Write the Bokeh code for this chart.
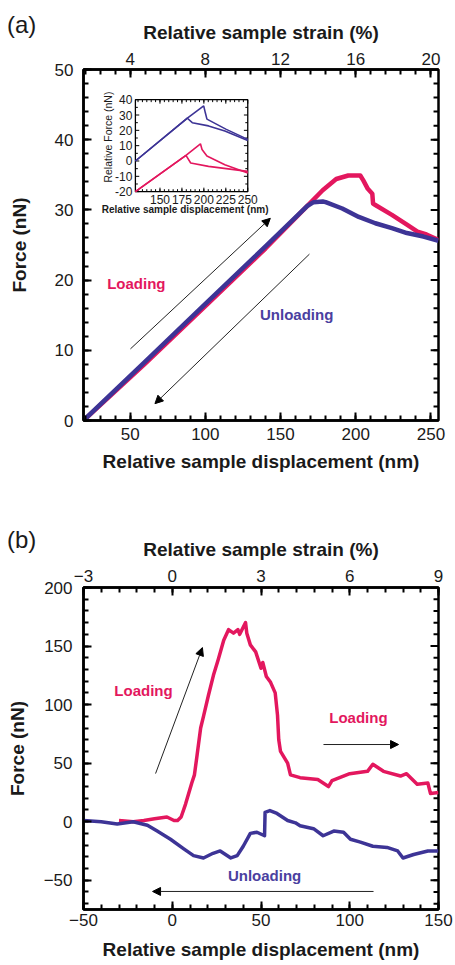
import math
import numpy as np
from bokeh.plotting import figure
from bokeh.models import Range1d, LinearAxis, FixedTicker, Label, Arrow, NormalHead, Div
from bokeh.layouts import column
from bokeh.embed import file_html
from bokeh.resources import INLINE
from bokeh.core.properties import value

FONT = "Liberation Sans"
PINK = "#E3175E"
BLUE = "#3D3496"
TXT = "#1a1a1a"

# ---------------- Panel (a) data ----------------
A_DISP_LOAD = [19, 60, 100, 140, 167, 178, 187, 195, 203, 205, 208, 211, 211.5, 213, 224, 234, 241, 247, 255]
A_FORCE_LOAD = [0, 8.1, 16.3, 24.5, 30.4, 32.8, 34.4, 34.9, 34.9, 34.2, 33.0, 32.3, 30.9, 30.7, 29.3, 27.9, 26.9, 26.5, 25.7]
A_DISP_UNLOAD = [19, 60, 100, 140, 168, 172, 178, 180, 191, 202, 213, 224, 234, 245, 255]
A_FORCE_UNLOAD = [0, 8.4, 16.6, 24.8, 30.6, 31.1, 31.2, 31.1, 30.2, 29.0, 28.1, 27.4, 26.7, 26.2, 25.6]
A_X_TICKS = [50, 100, 150, 200, 250]
A_Y_TICKS = [0, 10, 20, 30, 40, 50]
A_STRAIN_TICKS = [4, 8, 12, 16, 20]
A_STRAIN_PER_NM = 0.08

# inset of panel (a)
IN_BLUE1_X = [122, 181.2, 186.8, 205.3, 223.9, 250]
IN_BLUE1_Y = [0, 27.9, 25.0, 22.9, 19.6, 13.4]
IN_BLUE2_X = [122, 181.2, 199.8, 201.6, 203.5, 225, 250]
IN_BLUE2_Y = [0, 27.9, 36.0, 31.6, 27.3, 20.8, 14.1]
IN_PINK1_X = [122, 179.6, 185, 205.3, 250]
IN_PINK1_Y = [-20, 3.7, -1.3, -3.5, -6.8]
IN_PINK2_X = [122, 179.6, 196.1, 197.9, 203.5, 223.9, 250]
IN_PINK2_Y = [-20, 3.7, 11.2, 7.5, 3.2, -2.4, -7.9]
IN_X_TICKS = [150, 175, 200, 225, 250]
IN_Y_TICKS = [-20, -10, 0, 10, 20, 30, 40]

# ---------------- Panel (b) data ----------------
B_DISP_LOAD = [-30, -22, -16, -10, -3, 1, 3, 5, 7.5, 11, 12.5, 14, 16, 17.6, 20.4, 23.2, 26, 29, 31.7, 34.5,
               37, 38, 41.3, 42, 44, 47, 50, 51, 53, 55.4, 58, 59.3, 60, 61, 65, 66.6, 72, 82, 88, 90,
               100, 110, 113, 119, 128.6, 132, 138, 144, 145.5, 150]
B_FORCE_LOAD = [1, 0, 1, 2.5, 4, 1, 1, 4, 15, 33, 40, 57, 80, 90, 108, 125, 139, 155, 164, 161,
                164, 160, 170, 161, 151, 145, 131, 136, 124, 119, 110, 91, 70, 60, 50, 40, 37.6, 36, 30, 35,
                41, 43, 49, 43, 39, 41, 32, 33, 24, 25]
B_DISP_UNLOAD = [-50, -40, -31, -22, -14, -8.5, -1, 6.3, 12, 17.6, 23, 27, 33, 36.6, 40, 44, 47.7, 52,
                 52.3, 55, 59, 65, 69.4, 72, 79.6, 85, 91, 96.5, 100.4, 106, 113, 121, 127, 130, 136, 144, 150]
B_FORCE_UNLOAD = [1, 0, -2, 0, -3, -8, -15, -23, -29, -31, -27, -25, -31, -29, -21, -10, -9, -12,
                  8, 9.5, 7, 1, -1, -3.5, -6, -12, -8, -9, -15, -17.5, -21, -22, -25, -31, -28, -25, -25]
B_X_TICKS = [-50, 0, 50, 100, 150]
B_Y_TICKS = [-50, 0, 50, 100, 150, 200]
B_STRAIN_TICKS = [-3, 0, 3, 6, 9]
B_STRAIN_PER_NM = 0.06


def rnd(arr):
    return [round(float(v), 3) for v in arr]


def style_axis(ax, ticks, minor, standoff=8, title_standoff=8):
    ax.ticker = FixedTicker(ticks=ticks, minor_ticks=minor)
    ax.major_tick_in = 8
    ax.major_tick_out = 0
    ax.minor_tick_in = 5
    ax.minor_tick_out = 0
    ax.major_tick_line_width = 2
    ax.minor_tick_line_width = 2
    ax.axis_line_width = 2.5
    ax.major_label_text_font = FONT
    ax.major_label_text_font_size = "17px"
    ax.major_label_text_font_style = "normal"
    ax.major_label_text_color = TXT
    ax.major_label_standoff = standoff
    ax.axis_label_text_font = FONT
    ax.axis_label_text_font_style = "bold"
    ax.axis_label_text_font_size = "19px"
    ax.axis_label_text_color = TXT
    ax.axis_label_standoff = title_standoff


def right_ticks(p, x_edge, major, minor, len_major, len_minor):
    # inward tick marks on the right frame edge (no labels there in the reference)
    p.segment(x0=[x_edge] * len(major), x1=[x_edge - len_major] * len(major), y0=major, y1=major,
              line_color="black", line_width=2)
    p.segment(x0=[x_edge] * len(minor), x1=[x_edge - len_minor] * len(minor), y0=minor, y1=minor,
              line_color="black", line_width=2)


def base_fig(width, height, xr, yr, borders):
    p = figure(width=width, height=height, x_range=xr, y_range=yr,
               output_backend="svg", toolbar_location=None,
               min_border_left=borders[0], min_border_right=borders[1],
               min_border_top=borders[2], min_border_bottom=borders[3],
               x_axis_label="Relative sample displacement (nm)", y_axis_label="Force (nN)")
    p.grid.visible = False
    p.outline_line_color = "black"
    p.outline_line_width = 2.5
    p.background_fill_color = "white"
    p.border_fill_color = "white"
    return p


def add_label(p, x, y, text, color, size="15px"):
    p.add_layout(Label(x=x, y=y, text=text, text_font=FONT, text_font_size=size,
                       text_font_style="bold", text_color=color,
                       text_align="center", text_baseline="middle"))


def add_arrow(p, x0, y0, x1, y1):
    p.add_layout(Arrow(end=NormalHead(size=8, fill_color="black", line_color="black", line_width=1),
                       x_start=x0, y_start=y0, x_end=x1, y_end=y1,
                       line_color="#222222", line_width=1))


def panel_tag(text, left_px, top_px):
    return Div(text=f'<span style="font-family:\'{FONT}\';font-size:24px;line-height:1;color:{TXT}">{text}</span>',
               margin=(0, 0, 0, 0),
               styles={"position": "absolute", "left": f"{left_px}px", "top": f"{top_px}px", "z-index": "10"})


# ================= Figure (a) =================
AX0, AX1 = 19, 255
pa = base_fig(455, 488, Range1d(AX0, AX1), Range1d(0, 50), (82, 10, 69, 68))
pa.extra_x_ranges = {"strain": Range1d(AX0 * A_STRAIN_PER_NM, AX1 * A_STRAIN_PER_NM)}
top_a = LinearAxis(x_range_name="strain", axis_label="Relative sample strain (%)")
pa.add_layout(top_a, "above")

style_axis(pa.below[0], A_X_TICKS, rnd(np.arange(20, 251, 10)), standoff=7, title_standoff=8)
style_axis(pa.left[0], A_Y_TICKS, rnd(np.arange(0, 50.1, 2)), standoff=10, title_standoff=22)
style_axis(top_a, A_STRAIN_TICKS, rnd(np.arange(1.6, 20.41, 0.8)), standoff=5, title_standoff=7)
right_ticks(pa, AX1, A_Y_TICKS, rnd(np.arange(2, 50, 2)), 5.2, 3.3)

pa.line(A_DISP_LOAD, A_FORCE_LOAD, line_color=PINK, line_width=4.5, line_join="round")
pa.line(A_DISP_UNLOAD, A_FORCE_UNLOAD, line_color=BLUE, line_width=4.5, line_join="round")

add_arrow(pa, 50.2, 10.2, 143.2, 28.8)
add_arrow(pa, 169.2, 23.7, 66.5, 2.4)
add_label(pa, 54.1, 19.5, "Loading", PINK)
add_label(pa, 160.7, 15.1, "Unloading", "#4A40A0")

# ---- inset ----
IX0, IX1, IY0, IY1 = 122, 250, -20, 40
ins = pa.subplot(x_source=Range1d(IX0, IX1), y_source=Range1d(IY0, IY1),
                 x_target=Range1d(53.5, 128.2), y_target=Range1d(32.6, 45.7))
ins.quad(left=[IX0], right=[IX1], bottom=[IY0], top=[IY1], fill_color="white",
         line_color="black", line_width=1.3)
xt_minor = rnd(np.arange(125, 250, 5))
yt_minor = rnd(np.arange(-15, 40, 10))
for vals, d in ((IN_X_TICKS, 2.6), (xt_minor, 1.6)):
    ins.segment(x0=vals, x1=vals, y0=[IY0] * len(vals), y1=[IY0 + d] * len(vals), line_color="black", line_width=1)
    ins.segment(x0=vals, x1=vals, y0=[IY1] * len(vals), y1=[IY1 - d] * len(vals), line_color="black", line_width=1)
for vals, d in ((IN_Y_TICKS, 4.4), (yt_minor, 2.8)):
    ins.segment(x0=[IX0] * len(vals), x1=[IX0 + d] * len(vals), y0=vals, y1=vals, line_color="black", line_width=1)
    ins.segment(x0=[IX1] * len(vals), x1=[IX1 - d] * len(vals), y0=vals, y1=vals, line_color="black", line_width=1)

ins.line(IN_BLUE1_X, IN_BLUE1_Y, line_color=BLUE, line_width=1.6)
ins.line(IN_BLUE2_X, IN_BLUE2_Y, line_color=BLUE, line_width=1.6)
ins.line(IN_PINK1_X, IN_PINK1_Y, line_color=PINK, line_width=1.6)
ins.line(IN_PINK2_X, IN_PINK2_Y, line_color=PINK, line_width=1.6)

ins.text(x=IN_X_TICKS, y=[IY0] * len(IN_X_TICKS), text=[str(v) for v in IN_X_TICKS],
         text_font=value(FONT), text_font_size="12px", text_color=TXT,
         text_align="center", text_baseline="middle", y_offset=8)
ins.text(x=[IX0] * len(IN_Y_TICKS), y=IN_Y_TICKS, text=[str(v) for v in IN_Y_TICKS],
         text_font=value(FONT), text_font_size="12px", text_color=TXT,
         text_align="right", text_baseline="middle", x_offset=-3)
ins.text(x=[178.7], y=[IY0], text=["Relative sample displacement (nm)"],
         text_font=value(FONT), text_font_size="10px", text_font_style="bold", text_color=TXT,
         text_align="center", text_baseline="middle", y_offset=18)
ins.text(x=[IX0], y=[15.6], text=["Relative Force (nN)"], angle=math.pi / 2,
         text_font=value(FONT), text_font_size="10.5px", text_color=TXT,
         text_align="center", text_baseline="middle", x_offset=-27)

# ================= Figure (b) =================
BX0, BX1 = -50, 150
pb = base_fig(455, 477, Range1d(BX0, BX1), Range1d(-75, 200), (83, 17, 99, 56))
pb.extra_x_ranges = {"strain": Range1d(BX0 * B_STRAIN_PER_NM, BX1 * B_STRAIN_PER_NM)}
top_b = LinearAxis(x_range_name="strain", axis_label="Relative sample strain (%)")
pb.add_layout(top_b, "above")

style_axis(pb.below[0], B_X_TICKS, rnd(np.arange(-50, 151, 10)), standoff=4, title_standoff=10)
style_axis(pb.left[0], B_Y_TICKS, rnd(np.arange(-70, 201, 10)), standoff=11, title_standoff=13)
style_axis(top_b, B_STRAIN_TICKS, rnd(np.arange(-3, 9.01, 0.6)), standoff=6, title_standoff=7)
right_ticks(pb, BX1, B_Y_TICKS, rnd(np.arange(-70, 200, 10)), 4.5, 2.8)

pb.line(B_DISP_LOAD, B_FORCE_LOAD, line_color=PINK, line_width=3.5, line_join="round")
pb.line(B_DISP_UNLOAD, B_FORCE_UNLOAD, line_color=BLUE, line_width=3.5, line_join="round")

add_arrow(pb, -9.4, 41.1, 17, 148.7)
add_arrow(pb, 85.2, 65.9, 127.5, 65.9)
add_arrow(pb, 113.4, -59.6, -11.1, -59.6)
add_label(pb, -16.2, 112, "Loading", PINK)
add_label(pb, 104.9, 89, "Loading", PINK)
add_label(pb, 52, -46, "Unloading", "#4A40A0")

layout = column(pa, pb, panel_tag("(a)", 7, 13), panel_tag("(b)", 7, 528), spacing=0)
open("out.html", "w").write(file_html(layout, INLINE))
